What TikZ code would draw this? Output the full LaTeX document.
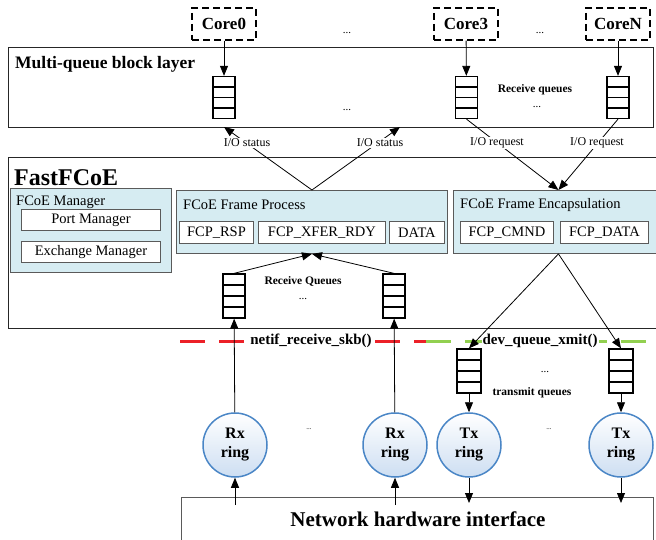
\documentclass[tikz,border=0pt]{standalone}
\usepackage{fontspec}
\setmainfont{Liberation Serif}
\usetikzlibrary{arrows.meta,calc}

\definecolor{boxblue}{RGB}{214,236,242}
\definecolor{ringblue}{RGB}{74,134,198}
\definecolor{ringfill}{RGB}{205,222,242}
\definecolor{dashred}{RGB}{236,32,40}
\definecolor{dashgreen}{RGB}{146,208,80}
\definecolor{boxgray}{RGB}{90,90,90}

\newcommand{\fs}[1]{\fontsize{#1}{#1}\selectfont}

\begin{document}
\begin{tikzpicture}[x=1pt,y=-1pt,
  tip/.style={-{Triangle[length=10pt,width=8pt]}, line width=0.8pt},
  layer/.style={draw=black!85, line width=0.9pt, inner sep=0pt, anchor=north west},
  bluebox/.style={draw=boxgray, fill=boxblue, line width=0.9pt, inner sep=0pt, anchor=north west},
  whitebox/.style={draw=boxgray, fill=white, line width=0.9pt, inner sep=0pt, anchor=north west, font=\fs{14.5}},
  corebox/.style={draw, dash pattern=on 7pt off 4pt, line width=1.5pt, minimum width=64pt, minimum height=32pt, inner sep=0pt, font=\bfseries\fs{17}},
  queue/.style={draw, line width=1.3pt, minimum width=22pt, minimum height=42pt, inner sep=0pt,
    path picture={\foreach \k in {1,2,3}
      \draw[line width=1.1pt] ($(path picture bounding box.north west)!\k/4!(path picture bounding box.south west)$) --
                              ($(path picture bounding box.north east)!\k/4!(path picture bounding box.south east)$);}},
  ring/.style={circle, draw=ringblue, line width=1.5pt, minimum size=64pt, inner sep=0pt,
    top color=white, bottom color=ringfill, align=center, font=\bfseries\fontsize{16}{19}\selectfont},
  small/.style={font=\fs{12}, fill=white, inner sep=1pt},
  smallbold/.style={font=\bfseries\fs{11.5}, inner sep=1pt},
  dots/.style={font=\fs{11}, inner sep=0pt},
  title/.style={anchor=west, inner sep=0pt}
]
\useasboundingbox (0,0) rectangle (656,540);

% ---------- cores and multi-queue block layer ----------
\node[corebox] (core0) at (224,24) {Core0};
\node[corebox] (core3) at (466,24) {Core3};
\node[corebox] (coreN) at (618,24) {CoreN};
\node[dots] (d1) at (347,33) {...};
\node[dots] (d2) at (540,33) {...};

\node[layer, minimum width=645pt, minimum height=80pt] (mq) at (8,47) {};
\node[title, font=\bfseries\fs{17.5}] (mqt) at (15,64) {Multi-queue block layer};

\node[queue] (q0) at (224,97.5) {};
\node[queue] (q3) at (466.5,97.5) {};
\node[queue] (qN) at (618,97.5) {};
\node[smallbold] (rql) at (535,90) {Receive queues};
\node[dots] (d3) at (347,110) {...};
\node[dots] (d4) at (537,107) {...};

\draw[tip] (core0) -- (q0);
\draw[tip] (core3) -- (q3);
\draw[tip] (coreN) -- (qN);

% ---------- FastFCoE ----------
\node[layer, minimum width=660pt, minimum height=171pt] (ff) at (8,157) {};
\node[title, font=\bfseries\fs{24}] (fft) at (14,178) {FastFCoE};

\node[bluebox, minimum width=161pt, minimum height=84pt] (mgr) at (10,188) {};
\node[title, font=\fs{14.5}] (mgrt) at (16,202) {FCoE Manager};
\node[whitebox, minimum width=139pt, minimum height=21pt] (pm) at (21,209) {Port Manager};
\node[whitebox, minimum width=139pt, minimum height=21pt] (em) at (21,241) {Exchange Manager};

\node[bluebox, minimum width=271pt, minimum height=63pt] (fp) at (176,190) {};
\node[title, font=\fs{14.5}] (fpt) at (183,205) {FCoE Frame Process};
\node[whitebox, minimum width=74pt, minimum height=22pt] (rsp) at (179,221) {FCP\_RSP};
\node[whitebox, minimum width=127pt, minimum height=22pt] (xfer) at (258,221) {FCP\_XFER\_RDY};
\node[whitebox, minimum width=55pt, minimum height=22pt] (data) at (389,221) {DATA};

\node[bluebox, minimum width=210pt, minimum height=63pt] (fe) at (453,190) {};
\node[title, font=\fs{14.5}] (fet) at (460,205) {FCoE Frame Encapsulation};
\node[whitebox, minimum width=93pt, minimum height=22pt] (cmnd) at (460,221) {FCP\_CMND};
\node[whitebox, minimum width=88pt, minimum height=22pt] (fdata) at (560,221) {FCP\_DATA};

\node[queue, minimum height=44pt] (rq1) at (234,296) {};
\node[queue, minimum height=44pt] (rq2) at (394,296) {};
\node[smallbold] (rqt) at (303,281) {Receive Queues};
\node[dots] (d5) at (303,299) {...};

\draw[tip] (rq1.north) -- (fp.south);
\draw[tip] (rq2.north) -- (fp.south);

% ---------- I/O status / request ----------
\coordinate (s1) at (224,127);
\coordinate (s2) at (400,127);
\draw[tip] (fp.north) -- (s1);
\draw[tip] (fp.north) -- (s2);
\draw[tip] (q3.south) -- (fe.north);
\draw[tip] (qN.south) -- (fe.north);
\node[small] (ios1) at (247,143) {I/O status};
\node[small] (ios2) at (380,143) {I/O status};
\node[small] (ior1) at (497,143) {I/O request};
\node[small] (ior2) at (597,143) {I/O request};

% ---------- driver boundary ----------
\draw[dashred, line width=3pt, dash pattern=on 25pt off 14pt] (180,341) -- (440,341);
\draw[dashgreen, line width=3pt, dash pattern=on 25pt off 14pt] (426,341) -- (646,341);
\node[font=\bfseries\fs{15}, fill=white, inner sep=1pt] (nrs) at (311,341) {netif\_receive\_skb()};
\node[font=\bfseries\fs{15}, fill=white, inner sep=1pt] (dqx) at (540,341) {dev\_queue\_xmit()};

% ---------- transmit queues ----------
\node[queue, minimum width=24pt, minimum height=44pt] (tq1) at (469,371) {};
\node[queue, minimum width=24pt, minimum height=44pt] (tq2) at (621,371) {};
\node[dots] (d6) at (545,372) {...};
\node[smallbold] (tqt) at (532,393) {transmit queues};

\draw[tip] (fe.south) -- (tq1.north);
\draw[tip] (fe.south) -- (tq2.north);

% ---------- rings ----------
\node[ring] (rx1) at (235,445) {Rx\\ring};
\node[ring] (rx2) at (395,445) {Rx\\ring};
\node[ring] (tx1) at (469,445) {Tx\\ring};
\node[ring] (tx2) at (621,445) {Tx\\ring};
\node[font=\fs{7}, inner sep=0pt] (d7) at (309,429) {...};
\node[font=\fs{7}, inner sep=0pt] (d8) at (549,429) {...};

\draw[tip] (rx1) -- (rq1);
\draw[tip] (rx2) -- (rq2);
\draw[tip] (tq1) -- (tx1);
\draw[tip] (tq2) -- (tx2);

% ---------- hardware ----------
\node[layer, draw=boxgray, minimum width=472pt, minimum height=48pt] (nhi) at (181,497) {};
\node[font=\bfseries\fs{21}] (nhit) at (418,519) {Network hardware interface};

\coordinate (h1) at (235,505);
\coordinate (h2) at (395,505);
\coordinate (h3) at (469,503);
\coordinate (h4) at (621,503);
\draw[tip] (h1) -- (rx1);
\draw[tip] (h2) -- (rx2);
\draw[tip] (tx1) -- (h3);
\draw[tip] (tx2) -- (h4);
\end{tikzpicture}
\end{document}
